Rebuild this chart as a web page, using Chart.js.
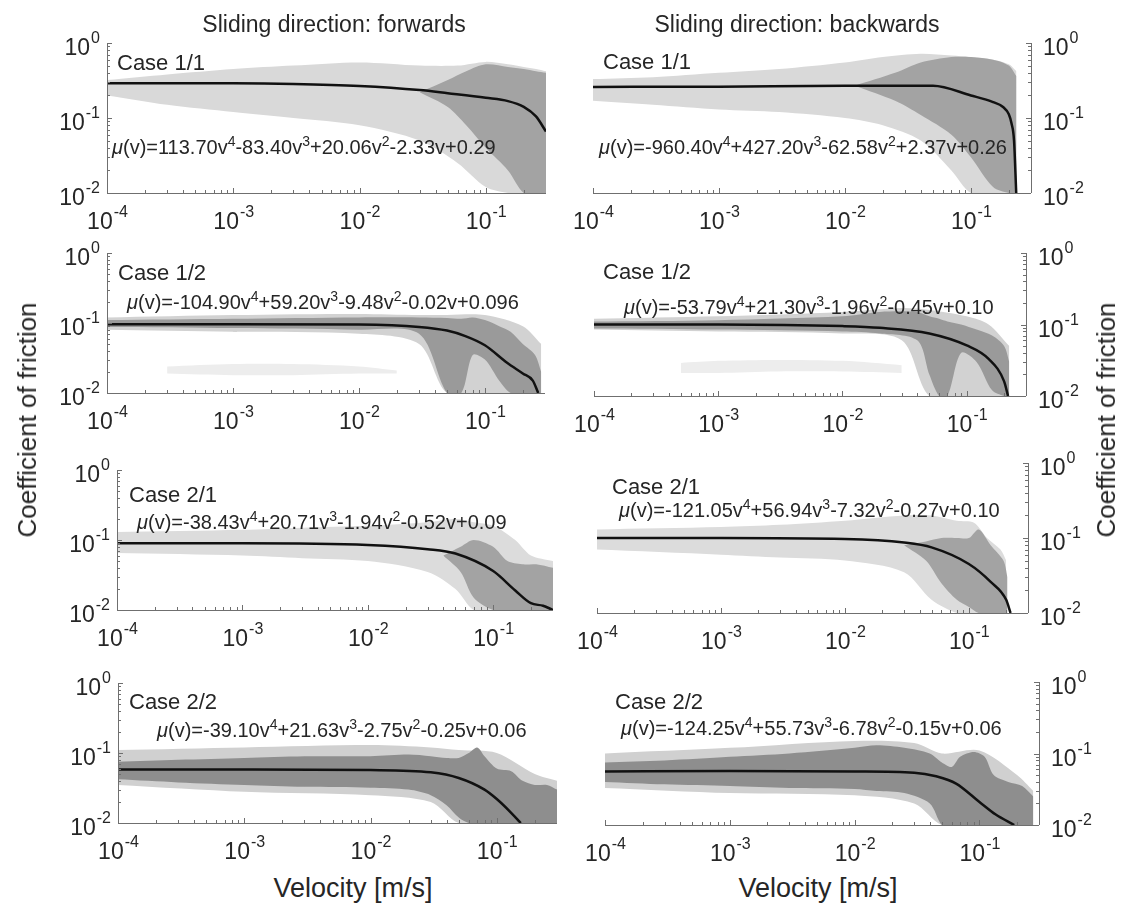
<!DOCTYPE html>
<html>
<head>
<meta charset="utf-8">
<script src="https://cdn.jsdelivr.net/npm/chart.js@4.4.1/dist/chart.umd.min.js"></script>
<style>
  html, body { margin: 0; padding: 0; background: #fff; }
  #fig { position: relative; width: 1127px; height: 914px; overflow: hidden; font-family: "Liberation Sans", Arial, Helvetica, sans-serif; color: #262626; }
  #fig canvas { position: absolute; }
  .lbl { position: absolute; white-space: nowrap; line-height: 1; }
  .mid { transform: translate(-50%, -50%); }
  .vert { transform: translate(-50%, -50%) rotate(-90deg); }
  .case { font-size: 22px; transform: translateY(-50%); }
  .eq { font-size: 20px; transform: translateY(-50%); }
  .eq sup { font-size: 14px; vertical-align: 8px; line-height: 0; }
</style>
</head>
<body>
<div id="fig"></div>
<script>
// axis ranges and ticks
const xMin = 1e-4, xMax = 0.3;
const yMin = 1e-2, yMax = 1;
const xMajorTicks = [1e-4, 1e-3, 1e-2, 1e-1];
const yMajorTicks = [1e-2, 1e-1, 1];
const minorSteps = [2, 3, 4, 5, 6, 7, 8, 9];

const titles = ["Sliding direction: forwards", "Sliding direction: backwards"];
const caseLabels = ["Case 1/1", "Case 1/1", "Case 1/2", "Case 1/2", "Case 2/1", "Case 2/1", "Case 2/2", "Case 2/2"];

// polynomial coefficients as printed (v^4, v^3, v^2, v, const)
const p1Eq = ["113.70", "-83.40", "+20.06", "-2.33", "+0.29"];
const p2Eq = ["-960.40", "+427.20", "-62.58", "+2.37", "+0.26"];
const p3Eq = ["-104.90", "+59.20", "-9.48", "-0.02", "+0.096"];
const p4Eq = ["-53.79", "+21.30", "-1.96", "-0.45", "+0.10"];
const p5Eq = ["-38.43", "+20.71", "-1.94", "-0.52", "+0.09"];
const p6Eq = ["-121.05", "+56.94", "-7.32", "-0.27", "+0.10"];
const p7Eq = ["-39.10", "+21.63", "-2.75", "-0.25", "+0.06"];
const p8Eq = ["-124.25", "+55.73", "-6.78", "-0.15", "+0.06"];

// Case 1/1 forwards
const p1CurveX = [1e-4, 1e-3, 3e-3, 1e-2, 3e-2, 5e-2, 0.1, 0.15, 0.2, 0.25, 0.3];
const p1CurveY = [0.29, 0.29, 0.285, 0.268, 0.236, 0.214, 0.186, 0.168, 0.141, 0.105, 0.066];
const p1SparseX = [1e-4, 3e-4, 1e-3, 3e-3, 1e-2, 3e-2, 6e-2, 0.1, 0.15, 0.2, 0.25, 0.3];
const p1SparseHi = [0.32, 0.38, 0.45, 0.5, 0.55, 0.5, 0.5, 0.56, 0.52, 0.48, 0.45, 0.42];
const p1SparseLo = [0.2, 0.15, 0.12, 0.1, 0.08, 0.05, 0.025, 0.012, 0.01, 0.01, 0.01, 0.01];
const p1DenseX = [0.03, 0.05, 0.07, 0.1, 0.15, 0.2, 0.25, 0.3];
const p1DenseHi = [0.22, 0.32, 0.42, 0.52, 0.48, 0.45, 0.42, 0.4];
const p1DenseLo = [0.22, 0.14, 0.08, 0.04, 0.02, 0.01, 0.01, 0.01];

// Case 1/1 backwards
const p2CurveX = [1e-4, 1e-3, 1e-2, 5e-2, 0.1, 0.15, 0.18, 0.2, 0.21, 0.22, 0.229];
const p2CurveY = [0.26, 0.262, 0.27, 0.27, 0.2, 0.163, 0.14, 0.112, 0.085, 0.05, 0.01];
const p2SparseX = [1e-4, 3e-4, 1e-3, 3e-3, 1e-2, 2e-2, 4e-2, 7e-2, 0.1, 0.15, 0.2, 0.23];
const p2SparseHi = [0.33, 0.35, 0.4, 0.45, 0.55, 0.65, 0.72, 0.68, 0.65, 0.6, 0.52, 0.42];
const p2SparseLo = [0.17, 0.15, 0.13, 0.12, 0.1, 0.08, 0.05, 0.02, 0.01, 0.01, 0.01, 0.01];
const p2DenseX = [0.012, 0.025, 0.04, 0.07, 0.1, 0.15, 0.2, 0.23];
const p2DenseHi = [0.27, 0.4, 0.55, 0.65, 0.65, 0.6, 0.5, 0.36];
const p2DenseLo = [0.27, 0.17, 0.11, 0.06, 0.03, 0.012, 0.01, 0.01];

// Case 1/2 forwards
const p3CurveX = [1e-4, 1e-3, 1e-2, 3e-2, 5e-2, 7e-2, 0.1, 0.15, 0.2, 0.24, 0.265];
const p3CurveY = [0.096, 0.096, 0.095, 0.088, 0.078, 0.065, 0.048, 0.027, 0.019, 0.015, 0.01];
const p3SparseX = [1e-4, 1e-3, 1e-2, 3e-2, 5e-2, 0.1, 0.2, 0.28];
const p3SparseHi = [0.12, 0.13, 0.135, 0.13, 0.13, 0.13, 0.09, 0.05];
const p3SparseLo = [0.08, 0.075, 0.07, 0.05, 0.01, 0.01, 0.01, 0.01];
const p3DenseX = [1e-4, 1e-3, 1e-2, 3e-2, 5e-2, 6.5e-2, 8e-2, 0.1, 0.13, 0.16, 0.2, 0.25, 0.28];
const p3DenseHi = [0.11, 0.115, 0.12, 0.12, 0.118, 0.115, 0.12, 0.11, 0.09, 0.075, 0.05, 0.035, 0.02];
const p3DenseLo = [0.088, 0.085, 0.08, 0.07, 0.01, 0.01, 0.035, 0.03, 0.015, 0.01, 0.01, 0.01, 0.01];
const p3FaintX = [3e-4, 1e-3, 3e-3, 1e-2, 2e-2];
const p3FaintHi = [0.024, 0.026, 0.026, 0.024, 0.021];
const p3FaintLo = [0.019, 0.018, 0.018, 0.019, 0.019];

// Case 1/2 backwards
const p4CurveX = [1e-4, 1e-3, 1e-2, 2e-2, 5e-2, 0.1, 0.15, 0.2, 0.215];
const p4CurveY = [0.1, 0.1, 0.095, 0.09, 0.075, 0.051, 0.033, 0.016, 0.01];
const p4SparseX = [1e-4, 1e-3, 1e-2, 3e-2, 5e-2, 0.1, 0.15, 0.22];
const p4SparseHi = [0.12, 0.13, 0.15, 0.17, 0.16, 0.13, 0.1, 0.05];
const p4SparseLo = [0.085, 0.08, 0.075, 0.06, 0.01, 0.01, 0.01, 0.01];
const p4DenseX = [1e-4, 1e-3, 1e-2, 2e-2, 4e-2, 5e-2, 6e-2, 7e-2, 9e-2, 0.12, 0.16, 0.2, 0.22];
const p4DenseHi = [0.11, 0.115, 0.13, 0.15, 0.15, 0.13, 0.12, 0.11, 0.1, 0.085, 0.07, 0.05, 0.03];
const p4DenseLo = [0.088, 0.085, 0.08, 0.075, 0.06, 0.02, 0.01, 0.01, 0.04, 0.03, 0.012, 0.01, 0.01];
const p4FaintX = [5e-4, 1e-3, 3e-3, 1e-2, 3e-2];
const p4FaintHi = [0.029, 0.031, 0.032, 0.031, 0.027];
const p4FaintLo = [0.021, 0.021, 0.022, 0.022, 0.021];

// Case 2/1 forwards
const p5CurveX = [1e-4, 1e-3, 1e-2, 3e-2, 5e-2, 0.1, 0.15, 0.2, 0.25, 0.3];
const p5CurveY = [0.09, 0.09, 0.085, 0.074, 0.064, 0.036, 0.019, 0.0125, 0.0115, 0.01];
const p5SparseX = [1e-4, 1e-3, 3e-3, 1e-2, 3e-2, 5e-2, 7e-2, 0.1, 0.15, 0.2, 0.3];
const p5SparseHi = [0.13, 0.14, 0.15, 0.16, 0.18, 0.2, 0.18, 0.16, 0.1, 0.06, 0.05];
const p5SparseLo = [0.065, 0.06, 0.055, 0.05, 0.035, 0.02, 0.01, 0.01, 0.01, 0.01, 0.01];
const p5DenseX = [0.04, 0.055, 0.07, 0.1, 0.13, 0.17, 0.22, 0.3];
const p5DenseHi = [0.06, 0.08, 0.1, 0.08, 0.05, 0.045, 0.045, 0.04];
const p5DenseLo = [0.06, 0.035, 0.015, 0.01, 0.01, 0.01, 0.01, 0.01];

// Case 2/1 backwards
const p6CurveX = [1e-4, 1e-3, 1e-2, 3e-2, 5e-2, 0.1, 0.15, 0.2, 0.217];
const p6CurveY = [0.1, 0.1, 0.097, 0.087, 0.075, 0.045, 0.026, 0.015, 0.01];
const p6SparseX = [1e-4, 1e-3, 3e-3, 1e-2, 3e-2, 5e-2, 8e-2, 0.11, 0.14, 0.18, 0.2];
const p6SparseHi = [0.13, 0.14, 0.15, 0.17, 0.2, 0.2, 0.17, 0.16, 0.1, 0.07, 0.05];
const p6SparseLo = [0.07, 0.06, 0.055, 0.05, 0.035, 0.015, 0.01, 0.01, 0.01, 0.01, 0.01];
const p6DenseX = [0.03, 0.045, 0.06, 0.08, 0.1, 0.12, 0.15, 0.19, 0.205];
const p6DenseHi = [0.08, 0.09, 0.1, 0.1, 0.1, 0.13, 0.08, 0.05, 0.03];
const p6DenseLo = [0.08, 0.05, 0.025, 0.015, 0.012, 0.01, 0.01, 0.01, 0.01];

// Case 2/2 forwards
const p7CurveX = [1e-4, 1e-3, 1e-2, 3e-2, 5e-2, 8e-2, 0.1, 0.13, 0.155];
const p7CurveY = [0.058, 0.058, 0.057, 0.053, 0.044, 0.03, 0.022, 0.014, 0.01];
const p7SparseX = [1e-4, 1e-3, 1e-2, 3e-2, 5e-2, 0.1, 0.2, 0.3];
const p7SparseHi = [0.11, 0.12, 0.13, 0.12, 0.11, 0.1, 0.05, 0.04];
const p7SparseLo = [0.035, 0.028, 0.025, 0.02, 0.01, 0.01, 0.01, 0.01];
const p7DenseX = [1e-4, 3e-4, 1e-3, 3e-3, 1e-2, 2e-2, 3e-2, 4e-2, 5e-2, 6e-2, 7e-2, 8e-2, 0.1, 0.13, 0.16, 0.2, 0.25, 0.3];
const p7DenseHi = [0.075, 0.08, 0.085, 0.09, 0.09, 0.095, 0.09, 0.085, 0.085, 0.1, 0.12, 0.09, 0.06, 0.055, 0.04, 0.035, 0.035, 0.03];
const p7DenseLo = [0.042, 0.038, 0.035, 0.033, 0.032, 0.03, 0.025, 0.018, 0.012, 0.01, 0.01, 0.01, 0.01, 0.01, 0.01, 0.01, 0.01, 0.01];

// Case 2/2 backwards
const p8CurveX = [1e-4, 1e-3, 1e-2, 3e-2, 4.5e-2, 6.5e-2, 0.1, 0.135, 0.19];
const p8CurveY = [0.056, 0.057, 0.056, 0.054, 0.048, 0.038, 0.021, 0.014, 0.01];
const p8SparseX = [1e-4, 1e-3, 1e-2, 3e-2, 5e-2, 0.1, 0.2, 0.27];
const p8SparseHi = [0.1, 0.12, 0.15, 0.14, 0.1, 0.11, 0.05, 0.03];
const p8SparseLo = [0.033, 0.028, 0.026, 0.02, 0.01, 0.01, 0.01, 0.01];
const p8DenseX = [1e-4, 3e-4, 1e-3, 3e-3, 1e-2, 1.5e-2, 2.5e-2, 4e-2, 5e-2, 6e-2, 7e-2, 9e-2, 0.11, 0.13, 0.17, 0.22, 0.27];
const p8DenseHi = [0.075, 0.08, 0.09, 0.1, 0.12, 0.13, 0.12, 0.1, 0.075, 0.065, 0.09, 0.105, 0.09, 0.05, 0.04, 0.035, 0.025];
const p8DenseLo = [0.04, 0.037, 0.035, 0.033, 0.032, 0.03, 0.028, 0.02, 0.01, 0.01, 0.01, 0.01, 0.01, 0.01, 0.01, 0.01, 0.01];

// layout: plot area [left, top, right, bottom], label anchors
const panels = [
  { rect: [107, 43, 546, 193], side: "left", curve: [p1CurveX, p1CurveY], sparse: [p1SparseX, p1SparseHi, p1SparseLo], dense: [p1DenseX, p1DenseHi, p1DenseLo], eq: p1Eq, caseAt: [117, 63], eqAt: [112, 147], light: "#d9d9d9", dark: "#a3a3a3" },
  { rect: [593, 43, 1031, 193], side: "right", curve: [p2CurveX, p2CurveY], sparse: [p2SparseX, p2SparseHi, p2SparseLo], dense: [p2DenseX, p2DenseHi, p2DenseLo], eq: p2Eq, caseAt: [603, 62], eqAt: [599, 147], light: "#d9d9d9", dark: "#a3a3a3" },
  { rect: [107, 253, 545, 393], side: "left", curve: [p3CurveX, p3CurveY], sparse: [p3SparseX, p3SparseHi, p3SparseLo], dense: [p3DenseX, p3DenseHi, p3DenseLo], faint: [p3FaintX, p3FaintHi, p3FaintLo], eq: p3Eq, caseAt: [118, 273], eqAt: [127, 302], light: "#d2d2d2", dark: "#9a9a9a" },
  { rect: [594, 253, 1026, 396], side: "right", curve: [p4CurveX, p4CurveY], sparse: [p4SparseX, p4SparseHi, p4SparseLo], dense: [p4DenseX, p4DenseHi, p4DenseLo], faint: [p4FaintX, p4FaintHi, p4FaintLo], eq: p4Eq, caseAt: [603, 272], eqAt: [624, 307], light: "#d2d2d2", dark: "#9a9a9a" },
  { rect: [117, 470, 553, 610], side: "left", curve: [p5CurveX, p5CurveY], sparse: [p5SparseX, p5SparseHi, p5SparseLo], dense: [p5DenseX, p5DenseHi, p5DenseLo], eq: p5Eq, caseAt: [129, 495], eqAt: [137, 522], light: "#dcdcdc", dark: "#a3a3a3" },
  { rect: [597, 463, 1028, 613], side: "right", curve: [p6CurveX, p6CurveY], sparse: [p6SparseX, p6SparseHi, p6SparseLo], dense: [p6DenseX, p6DenseHi, p6DenseLo], eq: p6Eq, caseAt: [612, 487], eqAt: [619, 510], light: "#dcdcdc", dark: "#a3a3a3" },
  { rect: [118, 683, 557, 823], side: "left", curve: [p7CurveX, p7CurveY], sparse: [p7SparseX, p7SparseHi, p7SparseLo], dense: [p7DenseX, p7DenseHi, p7DenseLo], eq: p7Eq, caseAt: [129, 702], eqAt: [157, 730], light: "#d0d0d0", dark: "#8e8e8e" },
  { rect: [605, 682, 1039, 825], side: "right", curve: [p8CurveX, p8CurveY], sparse: [p8SparseX, p8SparseHi, p8SparseLo], dense: [p8DenseX, p8DenseHi, p8DenseLo], eq: p8Eq, caseAt: [615, 702], eqAt: [621, 728], light: "#d0d0d0", dark: "#8e8e8e" }
];

const PAD = { left: 80, right: 80, top: 15, bottom: 45 };
const AXIS_COLOR = "#6f6f6f";
const TEXT_COLOR = "#262626";
const FONT = '"Liberation Sans", Arial, Helvetica, sans-serif';

const fig = document.getElementById("fig");

function pts(xs, ys) {
  return xs.map((x, i) => ({ x: x, y: ys[i] }));
}

function band(b, color, order) {
  return [
    { data: pts(b[0], b[1]), fill: "+1", backgroundColor: color, borderColor: "transparent", borderWidth: 0, pointRadius: 0, tension: 0.3, order: order },
    { data: pts(b[0], b[2]), fill: false, borderColor: "transparent", borderWidth: 0, pointRadius: 0, tension: 0.3, order: order }
  ];
}

// "10" with a superscript exponent
function drawPow(ctx, exp, x, y, align) {
  ctx.font = "23px " + FONT;
  const w10 = ctx.measureText("10").width;
  ctx.font = "16px " + FONT;
  const wExp = ctx.measureText(exp).width;
  let start = x;
  if (align === "center") start = x - (w10 + wExp) / 2;
  if (align === "right") start = x - (w10 + wExp);
  ctx.textAlign = "left";
  ctx.textBaseline = "middle";
  ctx.font = "23px " + FONT;
  ctx.fillText("10", start, y);
  ctx.font = "16px " + FONT;
  ctx.fillText(exp, start + w10 + 1, y - 10);
}

const axesDecor = {
  id: "axesDecor",
  afterDatasetsDraw(chart, args, opts) {
    const { ctx, chartArea: a } = chart;
    const xs = chart.scales.x, ys = chart.scales.y;
    const right = opts.side === "right";
    const ax = right ? a.right : a.left;
    ctx.save();
    ctx.strokeStyle = AXIS_COLOR;
    ctx.lineWidth = 1;
    ctx.beginPath();
    ctx.moveTo(a.left, Math.round(a.bottom) + 0.5);
    ctx.lineTo(a.right, Math.round(a.bottom) + 0.5);
    ctx.moveTo(Math.round(ax) + 0.5, a.top);
    ctx.lineTo(Math.round(ax) + 0.5, a.bottom);
    xMajorTicks.forEach(t => {
      const p = Math.round(xs.getPixelForValue(t)) + 0.5;
      ctx.moveTo(p, a.bottom); ctx.lineTo(p, a.bottom - 5);
      minorSteps.forEach(m => {
        const v = t * m;
        if (v > xMax) return;
        const q = Math.round(xs.getPixelForValue(v)) + 0.5;
        ctx.moveTo(q, a.bottom); ctx.lineTo(q, a.bottom - 3);
      });
    });
    const dir = right ? -1 : 1;
    yMajorTicks.forEach(t => {
      const p = Math.round(ys.getPixelForValue(t)) + 0.5;
      ctx.moveTo(ax, p); ctx.lineTo(ax + dir * 5, p);
      if (t >= yMax) return;
      minorSteps.forEach(m => {
        const q = Math.round(ys.getPixelForValue(t * m)) + 0.5;
        ctx.moveTo(ax, q); ctx.lineTo(ax + dir * 3, q);
      });
    });
    ctx.stroke();

    ctx.fillStyle = TEXT_COLOR;
    xMajorTicks.forEach(t => {
      drawPow(ctx, String(Math.round(Math.log10(t))), xs.getPixelForValue(t), a.bottom + 30, "center");
    });
    yMajorTicks.forEach(t => {
      const e = String(Math.round(Math.log10(t)));
      const p = ys.getPixelForValue(t) + 6;
      if (right) drawPow(ctx, e, ax + 12, p, "left");
      else drawPow(ctx, e, ax - 8, p, "right");
    });
    ctx.restore();
  }
};

function addText(cls, html, x, y) {
  const d = document.createElement("div");
  d.className = "lbl " + cls;
  d.style.left = x + "px";
  d.style.top = y + "px";
  d.innerHTML = html;
  fig.appendChild(d);
  return d;
}

panels.forEach((p, i) => {
  const [l, t, r, b] = p.rect;
  const cv = document.createElement("canvas");
  const w = r - l + PAD.left + PAD.right;
  const h = b - t + PAD.top + PAD.bottom;
  cv.width = w; cv.height = h;
  cv.style.left = (l - PAD.left) + "px";
  cv.style.top = (t - PAD.top) + "px";
  cv.style.width = w + "px";
  cv.style.height = h + "px";
  fig.appendChild(cv);

  let datasets = [
    { data: pts(p.curve[0], p.curve[1]), borderColor: "#111", borderWidth: 2.5, pointRadius: 0, fill: false, cubicInterpolationMode: "monotone", order: 0 }
  ];
  datasets = datasets.concat(band(p.dense, p.dark, 1), band(p.sparse, p.light, 2));
  if (p.faint) datasets = datasets.concat(band(p.faint, "#ededed", 3));

  new Chart(cv, {
    type: "line",
    data: { datasets: datasets },
    options: {
      responsive: false,
      animation: false,
      devicePixelRatio: 1,
      layout: { padding: PAD },
      plugins: { legend: { display: false }, tooltip: { enabled: false }, axesDecor: { side: p.side } },
      scales: {
        x: { type: "logarithmic", min: xMin, max: xMax, display: false },
        y: { type: "logarithmic", min: yMin, max: yMax, display: false }
      }
    },
    plugins: [axesDecor]
  });

  addText("case", caseLabels[i], p.caseAt[0], p.caseAt[1]);
  const c = p.eq;
  addText("eq", "<i>\u03bc</i>(v)=" + c[0] + "v<sup>4</sup>" + c[1] + "v<sup>3</sup>" + c[2] + "v<sup>2</sup>" + c[3] + "v" + c[4], p.eqAt[0], p.eqAt[1]);
});

addText("mid", titles[0], 334, 24).style.fontSize = "23px";
addText("mid", titles[1], 797, 24).style.fontSize = "23px";
addText("vert", "Coefficient of friction", 27, 420).style.fontSize = "26px";
addText("vert", "Coefficient of friction", 1106, 420).style.fontSize = "26px";
addText("mid", "Velocity [m/s]", 353, 888).style.fontSize = "27px";
addText("mid", "Velocity [m/s]", 818, 888).style.fontSize = "27px";
</script>
</body>
</html>
